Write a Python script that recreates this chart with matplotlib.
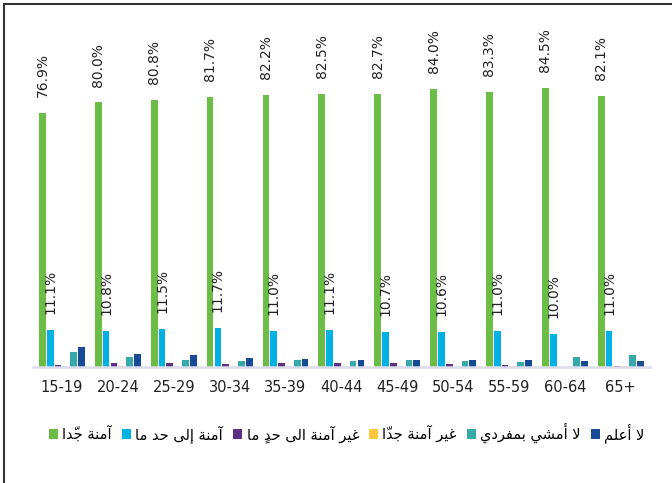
import matplotlib
matplotlib.use("Agg")
import matplotlib.pyplot as plt
import matplotlib.patches as mpatches
import numpy as np

# age groups and shares (%) per answer
age_groups = ['15-19', '20-24', '25-29', '30-34', '35-39', '40-44',
              '45-49', '50-54', '55-59', '60-64', '65+']
very_safe       = [76.9, 80.0, 80.8, 81.7, 82.2, 82.5, 82.7, 84.0, 83.3, 84.5, 82.1]
somewhat_safe   = [11.1, 10.8, 11.5, 11.7, 11.0, 11.1, 10.7, 10.6, 11.0, 10.0, 11.0]
somewhat_unsafe = [0.7, 1.3, 1.3, 0.8, 1.2, 1.1, 1.1, 0.8, 0.6, 0.1, 0.4]
very_unsafe     = [0.0, 0.4, 0.1, 0.1, 0.1, 0.1, 0.1, 0.1, 0.3, 0.0, 0.3]
not_walk_alone  = [4.5, 3.0, 2.0, 1.9, 2.0, 1.9, 2.0, 1.8, 1.6, 3.1, 3.7]
dont_know       = [6.0, 3.9, 3.6, 2.8, 2.3, 2.0, 2.1, 2.0, 2.2, 1.7, 1.8]

series_names = ['آمنة جّدا', 'آمنة إلى حد ما', 'غير آمنة الى حدٍ ما',
                'غير آمنة جدّا', 'لا أمشي بمفردي', 'لا أعلم']
colors = ['#6cbd45', '#00b2e3', '#5e2d84', '#fdc93a', '#38a9aa', '#174b97']


def shape_ar(text):
    # minimal arabic shaping + reversal, matplotlib has no bidi support
    forms = {
        'ا': (0xFE8D, 0xFE8E, None, None), 'آ': (0xFE81, 0xFE82, None, None),
        'أ': (0xFE83, 0xFE84, None, None), 'إ': (0xFE87, 0xFE88, None, None),
        'ب': (0xFE8F, 0xFE90, 0xFE91, 0xFE92), 'ة': (0xFE93, 0xFE94, None, None),
        'ج': (0xFE9D, 0xFE9E, 0xFE9F, 0xFEA0), 'ح': (0xFEA1, 0xFEA2, 0xFEA3, 0xFEA4),
        'د': (0xFEA9, 0xFEAA, None, None), 'ر': (0xFEAD, 0xFEAE, None, None),
        'ش': (0xFEB5, 0xFEB6, 0xFEB7, 0xFEB8), 'ع': (0xFEC9, 0xFECA, 0xFECB, 0xFECC),
        'غ': (0xFECD, 0xFECE, 0xFECF, 0xFED0), 'ف': (0xFED1, 0xFED2, 0xFED3, 0xFED4),
        'ل': (0xFEDD, 0xFEDE, 0xFEDF, 0xFEE0), 'م': (0xFEE1, 0xFEE2, 0xFEE3, 0xFEE4),
        'ن': (0xFEE5, 0xFEE6, 0xFEE7, 0xFEE8), 'ى': (0xFEEF, 0xFEF0, None, None),
        'ي': (0xFEF1, 0xFEF2, 0xFEF3, 0xFEF4),
    }
    lamalef = {'آ': (0xFEF5, 0xFEF6), 'أ': (0xFEF7, 0xFEF8),
               'إ': (0xFEF9, 0xFEFA), 'ا': (0xFEFB, 0xFEFC)}
    marks = set('\u064B\u064C\u064D\u064E\u064F\u0650\u0651\u0652')

    clusters = []
    for ch in text:
        if ch in marks and clusters:
            clusters[-1][1] += ch
        else:
            clusters.append([ch, ''])
    merged = []
    i = 0
    while i < len(clusters):
        b, m = clusters[i]
        if b == 'ل' and i + 1 < len(clusters) and clusters[i + 1][0] in lamalef:
            merged.append([('LA', clusters[i + 1][0]), m + clusters[i + 1][1]])
            i += 2
        else:
            merged.append([b, m])
            i += 1

    def dual(b):
        return isinstance(b, str) and b in forms and forms[b][2] is not None

    def arabic(b):
        return isinstance(b, tuple) or b in forms

    out = []
    for k, (b, m) in enumerate(merged):
        prev_j = k > 0 and dual(merged[k - 1][0])
        next_j = k + 1 < len(merged) and arabic(merged[k + 1][0])
        if isinstance(b, tuple):
            iso, fin = lamalef[b[1]]
            g = chr(fin if prev_j else iso)
        elif b in forms:
            iso, fin, ini, med = forms[b]
            can_next = ini is not None and next_j
            if prev_j and can_next:
                g = chr(med)
            elif prev_j:
                g = chr(fin)
            elif can_next:
                g = chr(ini)
            else:
                g = chr(iso)
        else:
            g = b
        # zero-advance mark drawn at pen pos -> put it before its base
        out.append(m + g)
    return ''.join(reversed(out))


plt.rcParams['font.family'] = ['DejaVu Sans']

fig = plt.figure(figsize=(6.72, 4.83), dpi=100)
ax = fig.add_axes([0.049, 0.240, 0.918, 0.719])

data = [very_safe, somewhat_safe, somewhat_unsafe, very_unsafe, not_walk_alone, dont_know]
x = np.arange(len(age_groups))
step = 0.14
width = 0.12
bars = []
for i, vals in enumerate(data):
    pos = x + (i - 2.5) * step
    b = ax.bar(pos, vals, width, color=colors[i], label=shape_ar(series_names[i]), zorder=2)
    bars.append(b)
    if i < 2:
        for px, v in zip(pos, vals):
            ax.annotate(f'{v:.1f}%', (px, v), xytext=(0, 11.5), textcoords='offset points',
                        rotation=90, ha='center', va='bottom', fontsize=10, color='#222222')

ax.set_xlim(-0.52, len(age_groups) - 0.48)
ax.set_ylim(0, 105)
ax.set_xticks(x)
ax.set_xticklabels(age_groups, fontsize=10.5, color='#222222')
ax.set_yticks([])
ax.tick_params(axis='x', length=0, pad=9)
for s in ['top', 'left', 'right']:
    ax.spines[s].set_visible(False)
ax.spines['bottom'].set_color('#dcdcec')
ax.spines['bottom'].set_linewidth(1.8)

fig.legend(handles=bars, loc='center', bbox_to_anchor=(0.516, 0.103), ncol=6,
           frameon=False, fontsize=10.5, handlelength=0.6, handleheight=0.6,
           handletextpad=0.3, columnspacing=0.7)

# outer frame (cropped on the right/bottom)
frame = mpatches.Rectangle((4 / 672, -0.2), 1.5, 1.2 - 4 / 483, transform=fig.transFigure,
                           fill=False, edgecolor='#333333', linewidth=1.5, clip_on=False)
fig.patches.append(frame)

fig.savefig('out.png', dpi=100)
